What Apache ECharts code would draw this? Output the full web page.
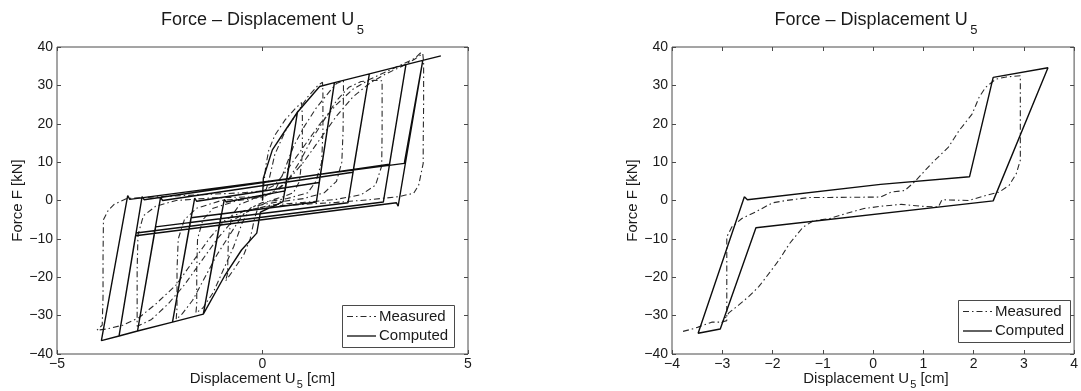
<!DOCTYPE html>
<html>
<head>
<meta charset="utf-8">
<script src="https://cdn.jsdelivr.net/npm/echarts@6/dist/echarts.min.js"></script>
<style>
html,body{margin:0;padding:0;background:#fff;}
#c{width:1081px;height:391px;}
</style>
</head>
<body>
<div id="c"></div>
<script>
// ---- data ----
const titleMain = 'Force – Displacement U';
const titleSub = '5';
const xNameParts = ['Displacement U', '5', ' [cm]'];
const yName = 'Force F [kN]';
const seriesNames = ['Measured', 'Computed'];
const leftXTicks = [-5, 0, 5];
const rightXTicks = [-4, -3, -2, -1, 0, 1, 2, 3, 4];
const yTicks = [-40, -30, -20, -10, 0, 10, 20, 30, 40];

const leftComputed = [
[0,0],[0.02,5.8],[0.24,13.2],[0.58,18.7],[0.85,23.0],[0.5,-0.3],[-0.05,-3.0],[-0.14,-8.5],[-0.51,-12.9],[-0.93,-19.8],[-1.44,-29.6],
[-0.93,0.3],[-0.88,-0.4],[0.55,2.5],[0.85,23.0],[1.39,29.7],[1.75,30.7],[1.31,-0.4],[-1.0,-3.5],[-1.44,-29.6],[-2.19,-31.7],
[-1.65,0.6],[-1.6,-0.2],[1.38,4.7],[1.75,30.7],[1.31,-0.4],[-1.74,-4.5],[-2.19,-31.7],[-1.65,0.6],[-1.6,-0.2],[1.38,4.7],[1.75,30.7],
[2.6,33.0],[2.08,-0.6],[-1.76,-5.75],[-2.19,-31.7],[-3.04,-34.0],[-2.48,0.8],[-2.43,0.0],[2.2,7.35],[2.6,33.0],[2.08,-0.6],
[-2.6,-6.87],[-3.04,-34.0],[-2.48,0.8],[-2.43,0.0],[2.2,7.35],[2.6,33.0],[3.49,35.4],[2.94,-0.4],[-2.62,-7.85],[-3.04,-34.0],
[-3.49,-35.3],[-2.93,1.0],[-2.88,0.2],[3.09,9.43],[3.49,35.4],[2.94,-0.4],[-3.075,-8.46],[-3.49,-35.3],[-2.93,1.0],[-2.88,0.2],
[3.09,9.43],[3.49,35.4],[3.9,36.5],[3.3,-1.5],[3.26,-0.6],[-3.09,-9.2],[-3.49,-35.3],[-3.92,-36.5],[-3.28,1.3],[-3.23,0.3],
[3.45,9.67],[3.9,36.5],[4.34,37.7]
];

const leftMeasured = [
[0,0],[0.03,4],[0.08,9],[0.15,13],[0.3,17],[0.55,21],[0.8,24],[0.95,25.5],
[0.97,22],[0.97,12],[0.9,5],[0.75,2],[0.5,1],[0.2,0],[-0.1,-1.5],[-0.2,-5],[-0.3,-10],[-0.45,-14],[-0.7,-18],[-0.9,-21],
[-0.85,-19],[-0.83,-10],[-0.75,-4],[-0.55,-1],[-0.2,0.5],[0.05,1.5],[0.15,5],[0.3,12],[0.55,18],[0.85,23],[1.1,27],[1.35,30],[1.46,30.8],
[1.47,28],[1.47,18],[1.44,10],[1.3,5],[1.1,2],[0.6,0.5],[0,-0.5],[-0.3,-2],[-0.5,-6],[-0.7,-12],[-0.95,-18],[-1.2,-24],[-1.45,-28],[-1.62,-29.3],
[-1.6,-27],[-1.6,-18],[-1.58,-10],[-1.45,-5],[-1.2,-2],[-0.6,0],[0,0.8],[0.3,2.5],[0.5,7],[0.75,14],[1.0,19],[1.3,24],[1.6,28],[1.8,30.5],[1.97,31.2],
[1.97,28],[1.96,18],[1.93,10],[1.8,5],[1.5,2],[1.0,0.5],[0.3,-0.5],[-0.2,-1.5],[-0.5,-4],[-0.8,-9],[-1.1,-14],[-1.4,-20],[-1.7,-26],[-1.95,-29.5],[-2.1,-31],
[-2.08,-28],[-2.08,-18],[-2.05,-10],[-1.9,-5],[-1.6,-2],[-1.0,0],[-0.2,0.8],[0.3,2],[0.6,5],[0.9,10],[1.2,16],[1.5,21],[1.8,26],[2.1,29.5],[2.4,31],[2.7,31.3],[2.91,31.2],
[2.91,28],[2.91,18],[2.9,9],[2.75,4],[2.4,1.5],[1.8,0.3],[1.0,-0.5],[0.2,-1.2],[-0.3,-2.5],[-0.7,-5],[-1.1,-10],[-1.5,-16],[-1.9,-22],[-2.3,-27],[-2.7,-31],[-3.05,-32.8],
[-3.05,-29],[-3.05,-18],[-3.03,-9],[-2.9,-4],[-2.6,-1.5],[-2.1,0],[-1.2,0.7],[0,1],[0.3,2.5],[0.6,5],[1.0,10],[1.4,16],[1.8,22],[2.2,27],[2.6,30.5],[3.0,33],[3.4,35],[3.7,36.8],[3.9,38.3],
[3.92,36],[3.92,25],[3.91,15],[3.91,9.7],[3.8,4],[3.68,1.9],[3.31,1.0],[2.6,0.2],[1.8,-0.5],[1.0,-1],[0.2,-1.5],[-0.4,-2.5],[-0.9,-5],[-1.3,-10],[-1.7,-16],[-2.1,-22],[-2.6,-27],[-3.0,-30.5],[-3.4,-32.5],[-3.8,-33.5],[-4.03,-33.8],
[-3.9,-32.5],[-3.88,-25],[-3.88,-15],[-3.87,-5],[-3.75,-2.5],[-3.61,-1],[-3.3,0.5],[-2.5,1],[-1.5,1.5],[-0.5,2],[0,2.5],[0.3,4],[0.6,8],[1.0,14],[1.4,20],[1.8,25],[2.2,29],[2.6,31.5],[3.0,33.5],[3.4,35.5],[3.7,37],[3.85,38.5]
];

const rightComputed = [
[-2.56,1.0],[-2.5,0.2],[0.15,4.2],[1.92,6.2],[2.39,32.1],[3.48,34.6],[2.39,-0.1],[-2.33,-7.1],[-3.04,-33.5],[-3.48,-34.6],[-2.56,1.0]
];

const rightMeasured = [
[-3.78,-34.1],[-3.6,-33.5],[-3.48,-33],[-3.21,-31.7],[-3.01,-31.7],[-2.91,-31.3],[-2.91,-20],[-2.91,-9.5],[-2.81,-6.9],[-2.61,-4.7],
[-2.34,-3.0],[-2.0,-0.6],[-1.73,0],[-1.26,0.8],[-0.86,0.8],[0.15,0.9],[0.36,2.2],[0.63,2.6],[0.83,4.9],[1.16,9.6],[1.5,13.9],
[1.71,18.2],[1.97,22.5],[2.11,26.9],[2.24,29.5],[2.44,31.6],[2.65,32.2],[2.93,32.5],[2.93,20],[2.93,10.5],[2.85,7],[2.71,4],
[2.51,2.2],[2.24,1.3],[1.9,0],[1.37,0.2],[1.3,-1.7],[0.96,-1.5],[0.56,-1.0],[0.15,-1.5],[-0.18,-2.1],[-0.52,-3.3],[-0.86,-4.7],
[-1.19,-5.3],[-1.39,-6.9],[-1.66,-11.2],[-1.87,-15.5],[-2.07,-19],[-2.27,-22.4],[-2.47,-25],[-2.67,-27.2],[-2.87,-29.3],[-3.01,-31.9]
];

// ---- chart ----
const FONT = '"Liberation Sans", Arial, Helvetica, sans-serif';
const INK = '#1a1a1a';
const FRAME = '#4a4a4a';
const MEAS_DASH = [6, 3, 1.5, 3];
const minus = v => String(v).replace('-', '\u2212');

const grids = [
  {left: 57, top: 47, width: 411, height: 307},
  {left: 672, top: 47, width: 408, height: 307}
];

const mctx = document.createElement('canvas').getContext('2d');
function tw(text, size) { mctx.font = size + 'px ' + FONT; return mctx.measureText(text).width; }

function xAx(gi, ticks, pos, labels) {
  return {
    type: 'value', gridIndex: gi, position: pos, min: ticks[0], max: ticks[ticks.length - 1], interval: ticks[1] - ticks[0],
    axisLine: {show: false, onZero: false},
    axisTick: {show: true, inside: true, length: 4, lineStyle: {color: FRAME, width: 1}},
    splitLine: {show: false},
    axisLabel: {show: labels, margin: 3, color: INK, fontSize: 14, fontFamily: FONT, formatter: minus, showMinLabel: true, showMaxLabel: true}
  };
}
function yAx(gi, pos, labels) {
  const o = {
    type: 'value', gridIndex: gi, position: pos, min: yTicks[0], max: yTicks[yTicks.length - 1], interval: yTicks[1] - yTicks[0],
    axisLine: {show: false, onZero: false},
    axisTick: {show: true, inside: true, length: 4, lineStyle: {color: FRAME, width: 1}},
    splitLine: {show: false},
    axisLabel: {show: labels, margin: 4, color: INK, fontSize: 14, fontFamily: FONT, formatter: minus}
  };
  if (labels) {
    o.name = yName;
    o.nameLocation = 'middle';
    o.nameGap = 24;
    o.nameTextStyle = {fontFamily: FONT, color: INK, fontSize: 15};
  }
  return o;
}

const measuredStyle = {color: '#2a2a2a', width: 1.1, type: MEAS_DASH};
const computedStyle = {color: '#0d0d0d', width: 1.4, type: 'solid'};

function line(name, data, xi, yi, style) {
  return {
    name: name, type: 'line', data: data, xAxisIndex: xi, yAxisIndex: yi,
    symbol: 'none', showSymbol: false, smooth: false, clip: true,
    lineStyle: style, itemStyle: {color: style.color},
    emphasis: {disabled: true}, animation: false
  };
}

function txt(x, y, text, size, align) {
  return {type: 'text', x: x, y: y, silent: true,
    style: {text: text, fill: INK, fontFamily: FONT, fontSize: size, align: align || 'left', verticalAlign: 'middle'}};
}

// title with subscript, centred at cx
function titleGraphic(cx) {
  const w1 = tw(titleMain, 18), w2 = tw(titleSub, 13), gap = 2.5;
  const x0 = cx - (w1 + gap + w2) / 2;
  return [txt(x0, 20.3, titleMain, 18), txt(x0 + w1 + gap, 30.5, titleSub, 13)];
}
// x axis name with subscript, centred at cx
function xNameGraphic(cx) {
  const w1 = tw(xNameParts[0], 15), w2 = tw(xNameParts[1], 11), w3 = tw(xNameParts[2], 15), gap = 1;
  const x0 = cx - (w1 + gap + w2 + w3) / 2;
  return [txt(x0, 379, xNameParts[0], 15), txt(x0 + w1 + gap, 385, xNameParts[1], 11), txt(x0 + w1 + gap + w2, 379, xNameParts[2], 15)];
}
// legend box drawn at (x, y), 112 x 42
function legendGraphic(x, y) {
  const h = 42, w = 112;
  return [
    {type: 'rect', silent: true, shape: {x: x + 0.5, y: y + 0.5, width: w, height: h},
      style: {fill: '#fff', stroke: FRAME, lineWidth: 1}, z: 10},
    {type: 'line', silent: true, shape: {x1: x + 5, y1: y + 11.5, x2: x + 34, y2: y + 11.5},
      style: {stroke: measuredStyle.color, lineWidth: 1.1, lineDash: MEAS_DASH}, z: 11},
    {type: 'line', silent: true, shape: {x1: x + 5, y1: y + 31, x2: x + 34, y2: y + 31},
      style: {stroke: computedStyle.color, lineWidth: 1.3}, z: 11},
    Object.assign(txt(x + 37, y + 11.5, seriesNames[0], 15), {z: 11}),
    Object.assign(txt(x + 37, y + 31, seriesNames[1], 15), {z: 11})
  ];
}

const graphics = [].concat(
  titleGraphic(262.5), titleGraphic(876),
  xNameGraphic(262.5), xNameGraphic(876),
  legendGraphic(342, 305), legendGraphic(958, 300)
);

const chart = echarts.init(document.getElementById('c'), null, {renderer: 'canvas', width: 1081, height: 391});
chart.setOption({
  animation: false,
  backgroundColor: '#fff',
  grid: grids.map(g => Object.assign({show: true, borderColor: FRAME, borderWidth: 1, backgroundColor: 'transparent', containLabel: false}, g)),
  xAxis: [
    xAx(0, leftXTicks, 'bottom', true),
    xAx(0, leftXTicks, 'top', false),
    xAx(1, rightXTicks, 'bottom', true),
    xAx(1, rightXTicks, 'top', false)
  ],
  yAxis: [
    yAx(0, 'left', true),
    yAx(0, 'right', false),
    yAx(1, 'left', true),
    yAx(1, 'right', false)
  ],
  graphic: graphics,
  series: [
    line(seriesNames[0], leftMeasured, 0, 0, measuredStyle),
    line(seriesNames[1], leftComputed, 0, 0, computedStyle),
    line(seriesNames[0], rightMeasured, 2, 2, measuredStyle),
    line(seriesNames[1], rightComputed, 2, 2, computedStyle)
  ]
});
</script>
</body>
</html>
